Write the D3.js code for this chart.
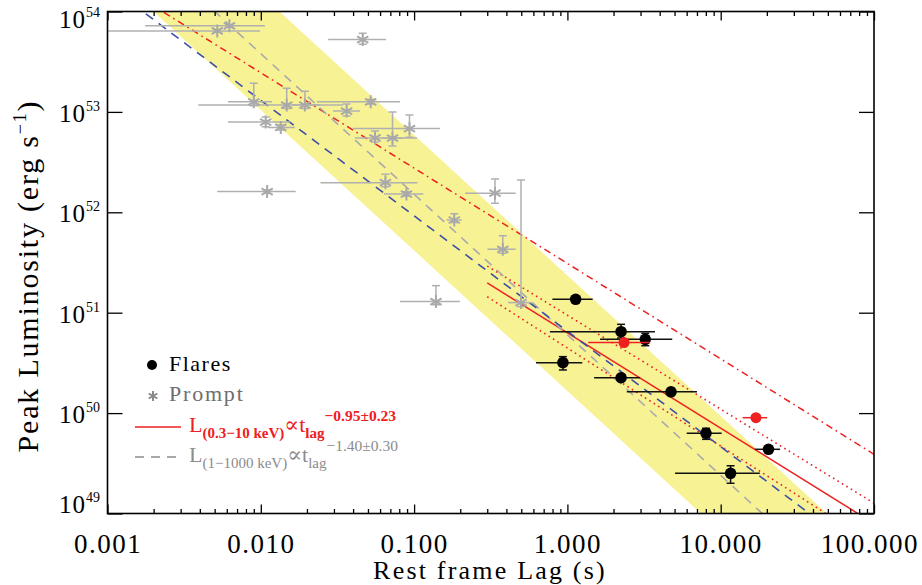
<!DOCTYPE html>
<html>
<head>
<meta charset="utf-8">
<script src="https://cdn.jsdelivr.net/npm/d3@7"></script>
<style>
  body { margin: 0; background: #fff; }
  svg text { font-family: "Liberation Serif", "Times New Roman", serif; }
</style>
</head>
<body>
<svg id="chart" width="922" height="585"></svg>
<script>
// ---- Prompt emission: rest-frame lag (s) and peak luminosity (erg/s) ----
const promptLag   = [0.0052, 0.00624, 0.0090, 0.01476, 0.0194, 0.0363, 0.0521, 0.0462, 0.01076, 0.0135, 0.0556,
                     0.0723, 0.0933, 0.0110, 0.0650, 0.0891, 0.1828, 0.337, 0.379, 0.1388, 0.498];
const promptLagLo = [0.00101, 0.00176, 0.00611, 0.00391, 0.0160, 0.0296, 0.0232, 0.0275, 0.00611, 0.01114, 0.0411,
                     0.0620, 0.0399, 0.0052, 0.0245, 0.0637, 0.163, 0.215, 0.301, 0.0809, 0.410];
const promptLagHi = [0.0099, 0.01064, 0.01186, 0.0344, 0.0243, 0.0444, 0.0809, 0.0656, 0.0155, 0.0167, 0.1045,
                     0.0850, 0.1476, 0.0169, 0.1052, 0.1148, 0.2047, 0.460, 0.460, 0.199, 0.585];
const promptLum   = [6.4e53, 7.2e53, 1.26e53, 1.17e53, 1.17e53, 1.02e53, 1.26e53, 5.26e53, 7.93e52, 7.0e52, 5.5e52,
                     5.47e52, 6.83e52, 1.61e52, 1.97e52, 1.52e52, 8.38e51, 1.55e52, 4.28e51, 1.29e51, 1.26e51];
const promptLumLo = [6.2e53, 7.0e53, 1.15e53, 1.08e53, 1.08e53, 0.91e53, 1.2e53, 4.71e53, 7.1e52, 6.6e52, 5.0e52,
                     4.57e52, 5.6e52, 1.55e52, 1.8e52, 1.45e52, 7.9e51, 1.23e52, 3.9e51, 1.2e51, 1.15e51];
const promptLumHi = [6.6e53, 7.4e53, 1.93e53, 1.72e53, 1.61e53, 1.2e53, 1.33e53, 6.07e53, 8.9e52, 7.4e52, 6.46e52,
                     1.0e53, 9.3e52, 1.67e52, 2.39e52, 1.6e52, 9.7e51, 2.15e52, 5.85e51, 1.86e51, 2.1e52];

// ---- X-ray flares ----
const flareLag   = [1.132, 2.239, 3.22, 0.935, 2.239, 4.74, 8.02, 20.5, 11.6];
const flareLagLo = [0.798, 0.769, 1.633, 0.624, 1.493, 2.44, 6.0, 16.7, 5.04];
const flareLagHi = [1.462, 3.725, 4.83, 1.25, 2.98, 7.0, 10.15, 24.4, 18.0];
const flareLum   = [1.36e51, 6.47e50, 5.43e50, 3.18e50, 2.25e50, 1.63e50, 6.29e49, 4.36e49, 2.51e49];
const flareLumLo = [1.32e51, 5.6e50, 4.69e50, 2.69e50, 2.15e50, 1.57e50, 5.48e49, 4.2e49, 2.0e49];
const flareLumHi = [1.40e51, 7.66e50, 6.24e50, 3.65e50, 2.35e50, 1.69e50, 7.06e49, 4.5e49, 2.99e49];

// flares highlighted in red
const redFlareLag   = [2.34, 16.98];
const redFlareLagLo = [1.368, 13.9];
const redFlareLagHi = [3.46, 20.1];
const redFlareLum   = [5.05e50, 9.0e49];

// ---- power-law relations: log10 L = norm + slope * log10 t ----
const fitNames    = ["flareFit", "flareUpper", "flareLower", "flareShifted", "promptFit", "promptAlt"];
const fitLogNorm  = [50.80, 50.975, 50.648, 51.49, 50.78, 50.815];
const fitSlope    = [-0.95, -0.936, -0.977, -0.95, -1.40, -1.15];
const fitLagStart = [0.3, 0.3, 0.3, 0.001, 0.001, 0.001];
const fitLagEnd   = [100, 100, 100, 100, 100, 100];

// scatter band around the prompt relation
const bandLogNorm = [50.22, 51.37];
const bandSlope = -1.40;

// axis ticks
const xMajor = [0.001, 0.01, 0.1, 1, 10, 100];
const xTickLabels = ["0.001", "0.010", "0.100", "1.000", "10.000", "100.000"];
const yMajor = [1e49, 1e50, 1e51, 1e52, 1e53, 1e54];
const yTickExp = ["49", "50", "51", "52", "53", "54"];

// ------------------------------------------------------------------
const svg = d3.select("#chart");
const L = 107.5, R = 874, T = 11.5, B = 513.5;

const x = d3.scaleLog().domain([0.001, 100]).range([L, R]);
const y = d3.scaleLog().domain([1e49, 1e54]).range([B, T]);

svg.append("defs").append("clipPath").attr("id", "plotClip")
  .append("rect").attr("x", L).attr("y", T).attr("width", R - L).attr("height", B - T);

const plot = svg.append("g").attr("clip-path", "url(#plotClip)");

const pow = (norm, slope, t) => Math.pow(10, norm + slope * Math.log10(t));

// yellow band
const bandPts = [
  [0.001, pow(bandLogNorm[1], bandSlope, 0.001)],
  [100, pow(bandLogNorm[1], bandSlope, 100)],
  [100, pow(bandLogNorm[0], bandSlope, 100)],
  [0.001, pow(bandLogNorm[0], bandSlope, 0.001)]
];
plot.append("path")
  .attr("d", d3.line().x(d => x(d[0])).y(d => y(d[1]))(bandPts) + "Z")
  .attr("fill", "#f7f294");

// relation lines
const fitStyle = {
  flareFit:     { stroke: "#ee2020", dash: null,          w: 1.5 },
  flareUpper:   { stroke: "#ee2020", dash: "1.6 3.6",     w: 1.6 },
  flareLower:   { stroke: "#ee2020", dash: "1.6 3.6",     w: 1.6 },
  flareShifted: { stroke: "#ee2020", dash: "7 4 1.6 4",   w: 1.5 },
  promptFit:    { stroke: "#aaaaaa", dash: "9 7",         w: 1.6 },
  promptAlt:    { stroke: "#3d4ea6", dash: "9 7",         w: 1.6 }
};
fitNames.forEach((name, i) => {
  const pts = [fitLagStart[i], fitLagEnd[i]].map(t => [t, pow(fitLogNorm[i], fitSlope[i], t)]);
  const st = fitStyle[name];
  plot.append("path")
    .attr("d", d3.line().x(d => x(d[0])).y(d => y(d[1]))(pts))
    .attr("fill", "none")
    .attr("stroke", st.stroke)
    .attr("stroke-width", st.w)
    .attr("stroke-dasharray", st.dash);
});

// error bars helper
function errorBars(g, lag, lagLo, lagHi, lum, lumLo, lumHi, color, width) {
  const idx = d3.range(lag.length);
  g.selectAll(null).data(idx).join("line")
    .attr("x1", i => x(lagLo[i])).attr("x2", i => x(lagHi[i]))
    .attr("y1", i => y(lum[i])).attr("y2", i => y(lum[i]))
    .attr("stroke", color).attr("stroke-width", width);
  if (!lumLo) return;
  g.selectAll(null).data(idx).join("line")
    .attr("x1", i => x(lag[i])).attr("x2", i => x(lag[i]))
    .attr("y1", i => y(lumLo[i])).attr("y2", i => y(lumHi[i]))
    .attr("stroke", color).attr("stroke-width", width);
  [lumLo, lumHi].forEach(arr => {
    g.selectAll(null).data(idx).join("line")
      .attr("x1", i => x(lag[i]) - 4).attr("x2", i => x(lag[i]) + 4)
      .attr("y1", i => y(arr[i])).attr("y2", i => y(arr[i]))
      .attr("stroke", color).attr("stroke-width", width);
  });
}

// asterisk marker path (six arms)
const asterisk = (s) => {
  const a = s * 0.866, b = s * 0.5;
  return `M0,${-s}L0,${s}M${-a},${-b}L${a},${b}M${-a},${b}L${a},${-b}`;
};

// prompt points
const promptG = plot.append("g");
errorBars(promptG, promptLag, promptLagLo, promptLagHi, promptLum, promptLumLo, promptLumHi, "#b0b0b0", 1.5);
promptG.selectAll(null).data(d3.range(promptLag.length)).join("path")
  .attr("transform", i => `translate(${x(promptLag[i])},${y(promptLum[i])})`)
  .attr("d", asterisk(6.5))
  .attr("stroke", "#a9a9a9").attr("stroke-width", 2).attr("fill", "none");

// flare points
const flareG = plot.append("g");
errorBars(flareG, flareLag, flareLagLo, flareLagHi, flareLum, flareLumLo, flareLumHi, "#111", 1.5);
flareG.selectAll(null).data(d3.range(flareLag.length)).join("circle")
  .attr("cx", i => x(flareLag[i])).attr("cy", i => y(flareLum[i]))
  .attr("r", 5.8).attr("fill", "#000");

const redG = plot.append("g");
errorBars(redG, redFlareLag, redFlareLagLo, redFlareLagHi, redFlareLum, null, null, "#ee2020", 1.5);
redG.selectAll(null).data(d3.range(redFlareLag.length)).join("circle")
  .attr("cx", i => x(redFlareLag[i])).attr("cy", i => y(redFlareLum[i]))
  .attr("r", 5.5).attr("fill", "#ee2020");

// ---- axes ----
const xMinor = [];
[0.001, 0.01, 0.1, 1, 10].forEach(d => { for (let m = 2; m <= 9; m++) xMinor.push(d * m); });

function styleAxis(g) {
  g.select(".domain").remove();
  g.selectAll("line").attr("stroke", "#000").attr("stroke-width", 1.3);
}

// bottom
svg.append("g").attr("transform", `translate(0,${B})`)
  .call(d3.axisBottom(x).tickValues(xMinor).tickSizeInner(-4.5).tickSizeOuter(0).tickFormat(""))
  .call(styleAxis);
const xAx = svg.append("g").attr("transform", `translate(0,${B})`)
  .call(d3.axisBottom(x).tickValues(xMajor).tickSizeInner(-9).tickSizeOuter(0)
        .tickFormat((d, i) => xTickLabels[i]))
  .call(styleAxis);
xAx.selectAll("text")
  .attr("y", 39).attr("dy", null)
  .attr("font-size", 27).attr("letter-spacing", 1.5)
  .attr("font-family", "Liberation Serif, serif").attr("fill", "#000");
// keep the last label inside the page
xAx.selectAll("text").each(function () {
  const w = this.getComputedTextLength();
  const tickX = +this.parentNode.getAttribute("transform").match(/translate\(([-\d.]+)/)[1];
  const over = tickX + w / 2 - 919;
  if (over > 0) d3.select(this).attr("x", -over);
});

// top
svg.append("g").attr("transform", `translate(0,${T})`)
  .call(d3.axisTop(x).tickValues(xMinor).tickSizeInner(-4.5).tickSizeOuter(0).tickFormat(""))
  .call(styleAxis);
svg.append("g").attr("transform", `translate(0,${T})`)
  .call(d3.axisTop(x).tickValues(xMajor).tickSizeInner(-9).tickSizeOuter(0).tickFormat(""))
  .call(styleAxis);

// left / right
svg.append("g").attr("transform", `translate(${L},0)`)
  .call(d3.axisLeft(y).tickValues(yMajor).tickSizeInner(-15).tickSizeOuter(0).tickFormat(""))
  .call(styleAxis);
svg.append("g").attr("transform", `translate(${R},0)`)
  .call(d3.axisRight(y).tickValues(yMajor).tickSizeInner(-15).tickSizeOuter(0).tickFormat(""))
  .call(styleAxis);

// y tick labels: 10^n, kept inside the axis range
const yLab = svg.append("g");
yMajor.forEach((v, i) => {
  const c = Math.min(Math.max(y(v) + 1.5, T + 8.5), B - 9);
  const t = yLab.append("text")
    .attr("x", 100).attr("y", c + 8.3)
    .attr("text-anchor", "end").attr("font-size", 25).attr("fill", "#000");
  t.append("tspan").text("10").attr("letter-spacing", 1);
  t.append("tspan").text(yTickExp[i]).attr("font-size", 14).attr("dy", -11);
});

// frame
svg.append("rect").attr("x", L).attr("y", T).attr("width", R - L).attr("height", B - T)
  .attr("fill", "none").attr("stroke", "#000").attr("stroke-width", 1.6);

// axis titles
svg.append("text")
  .attr("x", 490).attr("y", 579)
  .attr("text-anchor", "middle").attr("font-size", 26).attr("letter-spacing", 2.2)
  .text("Rest frame Lag (s)");

const yt = svg.append("text")
  .attr("transform", "translate(38,276) rotate(-90)")
  .attr("text-anchor", "middle").attr("font-size", 30).attr("letter-spacing", 1.8);
yt.append("tspan").text("Peak Luminosity (erg s");
yt.append("tspan").text("−1").attr("font-size", 18).attr("dy", -12);
yt.append("tspan").text(")").attr("dy", 12);

// ---- legend ----
const leg = svg.append("g");
leg.append("circle").attr("cx", 152).attr("cy", 365).attr("r", 5).attr("fill", "#000");
leg.append("text").attr("x", 169).attr("y", 371).attr("font-size", 22).attr("letter-spacing", 1.5)
  .attr("fill", "#000").text("Flares");

leg.append("path").attr("transform", "translate(153,396)").attr("d", asterisk(5))
  .attr("stroke", "#8a8a8a").attr("stroke-width", 2).attr("fill", "none");
leg.append("text").attr("x", 169).attr("y", 401).attr("font-size", 22).attr("letter-spacing", 1.8)
  .attr("fill", "#6e6e6e").text("Prompt");

leg.append("line").attr("x1", 135).attr("x2", 181).attr("y1", 427).attr("y2", 427)
  .attr("stroke", "#ee2020").attr("stroke-width", 1.6);
const rf = leg.append("text").attr("x", 189).attr("y", 432).attr("font-size", 22).attr("fill", "#ee2020");
rf.append("tspan").text("L");
rf.append("tspan").text("(0.3−10 keV)").attr("font-size", 15).attr("font-weight", "bold").attr("dy", 6);
rf.append("tspan").text("∝").attr("font-size", 22).attr("dy", -6).attr("font-family", "DejaVu Serif, serif");
rf.append("tspan").text("t");
rf.append("tspan").text("lag").attr("font-size", 15).attr("font-weight", "bold").attr("dy", 6);
rf.append("tspan").text("−0.95±0.23").attr("font-size", 15.5).attr("font-weight", "bold").attr("dy", -17);

leg.append("line").attr("x1", 135).attr("x2", 181).attr("y1", 457).attr("y2", 457)
  .attr("stroke", "#8c8c8c").attr("stroke-width", 1.6).attr("stroke-dasharray", "9 7");
const gf = leg.append("text").attr("x", 189).attr("y", 462).attr("font-size", 22).attr("fill", "#8c8c8c");
gf.append("tspan").text("L");
gf.append("tspan").text("(1−1000 keV)").attr("font-size", 15).attr("dy", 6);
gf.append("tspan").text("∝").attr("font-size", 22).attr("dy", -6).attr("font-family", "DejaVu Serif, serif");
gf.append("tspan").text("t");
gf.append("tspan").text("lag").attr("font-size", 15).attr("dy", 6);
gf.append("tspan").text("−1.40±0.30").attr("font-size", 15.5).attr("dy", -17);
</script>
</body>
</html>
